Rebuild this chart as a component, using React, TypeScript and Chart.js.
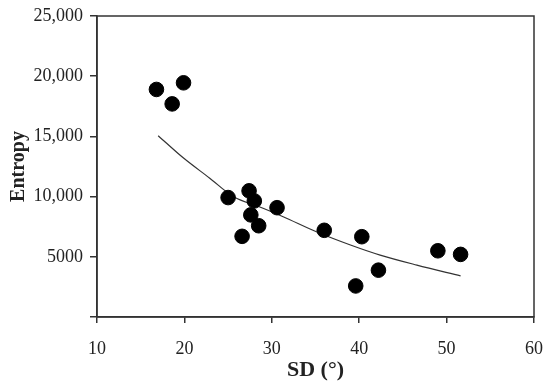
import React, { useEffect, useRef } from 'react';
import { Chart, registerables } from 'chart.js';

Chart.register(...registerables);

// Scatter data (SD in degrees, Entropy)
const sdValues = [16.8, 19.9, 18.6, 25.0, 27.4, 28.0, 27.6, 28.5, 26.6, 30.6, 36.0, 40.3, 42.2, 39.6, 49.0, 51.6];
const entropyValues = [18900, 19450, 17700, 9920, 10480, 9640, 8480, 7580, 6700, 9080, 7200, 6670, 3890, 2580, 5500, 5200];

// Trend curve
const trendSd = [17.0, 19.9, 22.9, 25.6, 29.0, 31.3, 35.1, 39.0, 42.4, 46.6, 51.6];
const trendEntropy = [15060, 13200, 11530, 10000, 9030, 8330, 7080, 5980, 5140, 4310, 3420];

// Axis ticks
const xTickValues = [10, 20, 30, 40, 50, 60];
const yTickValues = [0, 5000, 10000, 15000, 20000, 25000];
const yTickLabels = ['', '5000', '10,000', '15,000', '20,000', '25,000'];

const FONT = "'Liberation Serif', 'Times New Roman', serif";
const INK = '#222';
const AXIS = '#333';

const boxPlugin = {
  id: 'plotBox',
  afterDatasetsDraw(chart: any) {
    const { ctx, chartArea } = chart;
    ctx.save();
    ctx.strokeStyle = AXIS;
    ctx.lineWidth = 1.5;
    ctx.strokeRect(chartArea.left, chartArea.top, chartArea.right - chartArea.left, chartArea.bottom - chartArea.top);
    ctx.restore();
  },
};

export default function App() {
  const ref = useRef<HTMLCanvasElement | null>(null);

  useEffect(() => {
    if (!ref.current) return;
    const points = sdValues.map((x, i) => ({ x, y: entropyValues[i] }));
    const trend = trendSd.map((x, i) => ({ x, y: trendEntropy[i] }));
    const chart = new Chart(ref.current, {
      type: 'scatter',
      data: {
        datasets: [
          {
            label: 'Entropy',
            data: points,
            backgroundColor: '#000',
            borderColor: '#000',
            pointRadius: 7.3,
            pointHoverRadius: 7.3,
            showLine: false,
          },
          {
            label: 'Trend',
            data: trend,
            showLine: true,
            borderColor: '#333',
            borderWidth: 1.2,
            pointRadius: 0,
            cubicInterpolationMode: 'monotone',
            fill: false,
          },
        ],
      },
      options: {
        responsive: false,
        animation: false,
        layout: { padding: { left: 0, top: 16, right: 16, bottom: 0 } },
        plugins: {
          legend: { display: false },
          tooltip: { enabled: false },
        },
        scales: {
          x: {
            type: 'linear',
            min: 10,
            max: 60,
            afterBuildTicks: (s: any) => { s.ticks = xTickValues.map((v) => ({ value: v })); },
            afterFit: (s: any) => { s.height = 70; s.paddingRight = 0; s.paddingLeft = 0; },
            grid: { drawOnChartArea: false, drawTicks: true, tickLength: 6, color: AXIS, lineWidth: 1.5 },
            border: { display: true, color: AXIS, width: 1.5 },
            ticks: {
              color: INK,
              font: { family: FONT, size: 18 },
              padding: 15,
              maxRotation: 0,
              callback: (v: any) => String(v),
            },
            title: {
              display: true,
              text: 'SD (°)',
              color: INK,
              font: { family: FONT, size: 22, weight: 'bold' },
              padding: { top: 0, bottom: 3 },
            },
          },
          y: {
            type: 'linear',
            min: 0,
            max: 25000,
            afterBuildTicks: (s: any) => { s.ticks = yTickValues.map((v) => ({ value: v })); },
            afterFit: (s: any) => { s.width = 97; s.paddingTop = 0; s.paddingBottom = 0; },
            grid: { drawOnChartArea: false, drawTicks: true, tickLength: 7, color: AXIS, lineWidth: 1.5 },
            border: { display: true, color: AXIS, width: 1.5 },
            ticks: {
              color: INK,
              font: { family: FONT, size: 18 },
              padding: 7,
              callback: (v: any) => {
                const i = yTickValues.indexOf(Number(v));
                return i >= 0 ? yTickLabels[i] : '';
              },
            },
            title: {
              display: true,
              text: 'Entropy',
              color: INK,
              font: { family: FONT, size: 20, weight: 'bold' },
              padding: { top: 7, bottom: 0 },
            },
          },
        },
      },
      plugins: [boxPlugin],
    } as any);
    return () => chart.destroy();
  }, []);

  return (
    <div style={{ position: 'fixed', left: 0, top: 0, width: 550, height: 387, background: '#fff' }}>
      <canvas ref={ref} width={550} height={387} style={{ display: 'block', width: 550, height: 387 }} />
    </div>
  );
}
